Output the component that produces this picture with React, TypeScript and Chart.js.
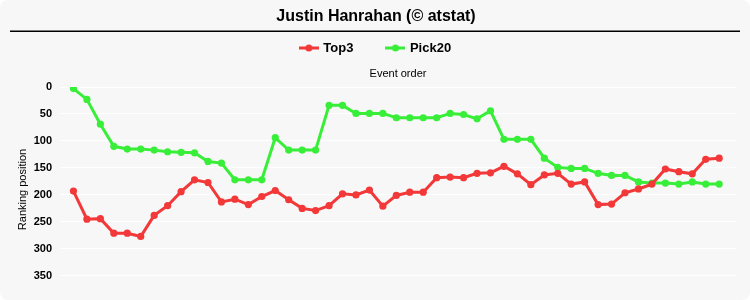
import React, { useEffect, useRef } from 'react';
import { Chart, registerables } from 'chart.js';

Chart.register(...registerables);

const TITLE = 'Justin Hanrahan (© atstat)';
const X_TITLE = 'Event order';
const Y_TITLE = 'Ranking position';
const SERIES_NAMES = ['Top3', 'Pick20'];
const SERIES_COLORS = ['#f23838', '#38ee38'];

const TOP3 = [
  193, 245, 244, 271, 271, 277, 238, 220, 194, 172,
  177, 213, 208, 218, 203, 192, 209, 225, 229, 220,
  198, 200, 191, 221, 201, 195, 195, 168, 167, 168,
  160, 159, 147, 161, 181, 163, 160, 180, 176, 218,
  217, 196, 189, 180, 152, 157, 161, 134, 132,
];

const PICK20 = [
  3, 23, 69, 110, 115, 115, 117, 120, 121, 122,
  138, 141, 172, 172, 172, 94, 117, 117, 117, 34,
  34, 49, 49, 49, 57, 57, 57, 57, 49, 51,
  59, 44, 97, 97, 97, 132, 149, 151, 151, 160,
  164, 164, 176, 178, 178, 180, 176, 180, 180,
];

const EVENTS = TOP3.map((_, i) => i + 1);
const Y_MIN = 0;
const Y_MAX = 380;
const Y_STEP = 50;
const X_MIN = 0;
const X_MAX = 50.25;

function makeMarker(color: string): HTMLCanvasElement {
  const c = document.createElement('canvas');
  c.width = 20;
  c.height = 10;
  const ctx = c.getContext('2d')!;
  ctx.strokeStyle = color;
  ctx.lineWidth = 3;
  ctx.beginPath();
  ctx.moveTo(0, 5);
  ctx.lineTo(20, 5);
  ctx.stroke();
  ctx.fillStyle = color;
  ctx.beginPath();
  ctx.arc(10, 5, 3.5, 0, Math.PI * 2);
  ctx.fill();
  return c;
}

const underlinePlugin = {
  id: 'titleUnderline',
  afterDraw(chart: any) {
    const ctx = chart.ctx;
    ctx.save();
    ctx.strokeStyle = '#000';
    ctx.lineWidth = 1.5;
    ctx.beginPath();
    ctx.moveTo(10, 31.25);
    ctx.lineTo(740, 31.25);
    ctx.stroke();
    ctx.restore();
  },
};

export default function App() {
  const ref = useRef<HTMLCanvasElement | null>(null);

  useEffect(() => {
    document.body.style.margin = '0';
    const canvas = ref.current;
    if (!canvas) return;
    Chart.defaults.font.family = 'Arial, "Liberation Sans", sans-serif';
    Chart.defaults.color = '#000';
    const markers = SERIES_COLORS.map(makeMarker);
    const series = [TOP3, PICK20];

    const chart = new Chart(canvas, {
      type: 'line',
      data: {
        datasets: series.map((vals, si) => ({
          label: SERIES_NAMES[si],
          data: vals.map((v, i) => ({ x: EVENTS[i], y: v })),
          borderColor: SERIES_COLORS[si],
          backgroundColor: SERIES_COLORS[si],
          pointBackgroundColor: SERIES_COLORS[si],
          pointBorderWidth: 0,
          pointRadius: 3.6,
          borderWidth: 3,
          tension: 0,
          fill: false,
        })),
      },
      options: {
        animation: false,
        responsive: false,
        devicePixelRatio: 1,
        layout: { padding: { left: 16, right: 14, top: 0, bottom: 8 } },
        plugins: {
          title: {
            display: true,
            text: TITLE,
            color: '#000',
            font: { size: 16, weight: 'bold' },
            padding: { top: 7.4, bottom: -19.1 },
          },
          legend: {
            display: true,
            position: 'top',
            labels: {
              usePointStyle: true,
              pointStyleWidth: 16,
              padding: 34,
              color: '#000',
              font: { size: 13, weight: 'bold' },
              generateLabels: (ch: any) => {
                const items = (Chart.defaults.plugins.legend.labels as any).generateLabels(ch);
                return items.map((it: any, i: number) => ({ ...it, pointStyle: markers[i] }));
              },
            },
          },
          tooltip: { enabled: false },
        },
        scales: {
          x: {
            type: 'linear',
            position: 'top',
            min: X_MIN,
            max: X_MAX,
            grid: { display: false },
            border: { display: false },
            ticks: { display: false },
            title: {
              display: true,
              text: X_TITLE,
              color: '#000',
              font: { size: 11 },
              padding: { top: 2.9, bottom: 0 },
            },
            afterFit: (s: any) => {
              s.height = 22.5;
              s.paddingLeft = 0;
              s.paddingRight = 0;
            },
          },
          y: {
            type: 'linear',
            reverse: true,
            min: Y_MIN,
            max: Y_MAX,
            grid: { color: '#ffffff', lineWidth: 1, drawTicks: false },
            border: { display: false },
            ticks: {
              stepSize: Y_STEP,
              padding: 8,
              color: '#000',
              font: { size: 11, weight: 'bold' },
            },
            afterBuildTicks: (s: any) => {
              s.ticks = s.ticks.filter((t: any) => t.value % Y_STEP === 0);
            },
            title: {
              display: true,
              text: Y_TITLE,
              color: '#000',
              font: { size: 11 },
              padding: { top: 0.4, bottom: 0 },
            },
            afterFit: (s: any) => {
              s.width = 44;
              s.paddingTop = 0;
              s.paddingBottom = 0;
            },
          },
        },
      },
      plugins: [underlinePlugin],
    } as any);

    return () => chart.destroy();
  }, []);

  return (
    <div
      style={{
        position: 'absolute',
        left: 0,
        top: 0,
        width: 750,
        height: 300,
        background: '#f7f7f7',
        borderRadius: 8,
        overflow: 'hidden',
      }}
    >
      <canvas ref={ref} width={750} height={300} style={{ display: 'block', width: 750, height: 300 }} />
    </div>
  );
}
